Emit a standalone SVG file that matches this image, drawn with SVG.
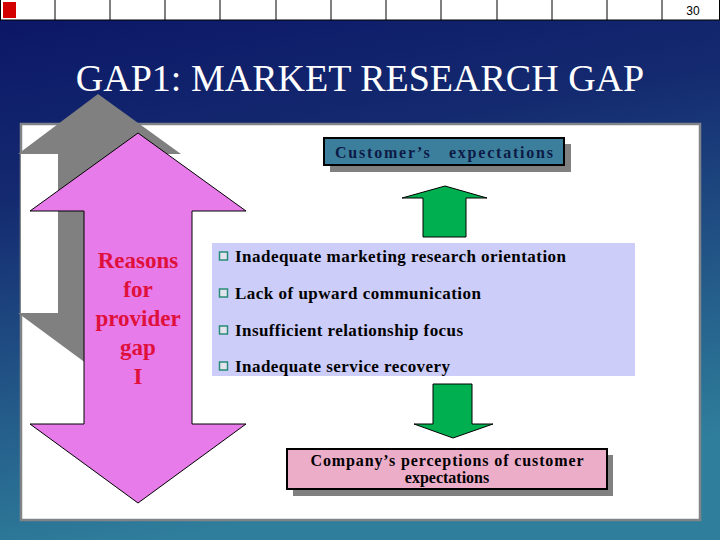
<svg xmlns="http://www.w3.org/2000/svg" width="720" height="540" viewBox="0 0 720 540">
<defs>
<linearGradient id="bg" x1="0" y1="0" x2="0.25" y2="1">
<stop offset="0" stop-color="#0b1565"/>
<stop offset="0.35" stop-color="#142a70"/>
<stop offset="1" stop-color="#2f7f9c"/>
</linearGradient>
<style>
.bullet{fill:#e4e4ee;stroke:#2a8c78;stroke-width:1.5}
.green{fill:#00b050;stroke:#000;stroke-width:1}
.div{stroke:#000;stroke-width:1}
</style>
</defs>
<rect x="0" y="0" width="720" height="540" fill="url(#bg)"/>
<g id="topbar">
<rect x="0" y="0" width="720" height="20" fill="#fff"/>
<line class="div" x1="0" y1="20" x2="720" y2="20" stroke-width="1.5"/>
<g class="div">
<line x1="0.5" y1="0" x2="0.5" y2="20"/>
<line x1="55" y1="0" x2="55" y2="20"/>
<line x1="110" y1="0" x2="110" y2="20"/>
<line x1="165" y1="0" x2="165" y2="20"/>
<line x1="220" y1="0" x2="220" y2="20"/>
<line x1="276" y1="0" x2="276" y2="20"/>
<line x1="331" y1="0" x2="331" y2="20"/>
<line x1="386" y1="0" x2="386" y2="20"/>
<line x1="441" y1="0" x2="441" y2="20"/>
<line x1="497" y1="0" x2="497" y2="20"/>
<line x1="552" y1="0" x2="552" y2="20"/>
<line x1="607" y1="0" x2="607" y2="20"/>
<line x1="662" y1="0" x2="662" y2="20"/>
<line x1="719.5" y1="0" x2="719.5" y2="20"/>
</g>
<rect x="3" y="2" width="13" height="16" fill="#d40000"/>
<text x="693" y="14.5" font-family="'Liberation Sans', Arial, sans-serif" font-size="12" fill="#000" text-anchor="middle">30</text>
</g>
<text id="title" font-family="'Liberation Serif', serif" x="360" y="91" font-size="38" fill="#fff" text-anchor="middle">GAP1: MARKET RESEARCH GAP</text>
<g id="panel">
<rect x="21" y="124" width="679" height="396" fill="#fff" stroke="#808488" stroke-width="2.5"/>
</g>
<g id="shadow-arrow">
<polygon points="98,94 181,154 138,154 138,313 181,313 98,372 18,313 58,313 58,154 18,154" fill="#808080"/>
<rect x="21" y="154" width="37" height="159" fill="#fff"/>
</g>
<g id="gap-arrow" font-family="'Liberation Serif', serif" font-weight="bold" font-size="23" fill="#e0103c" text-anchor="middle">
<polygon points="138,133 246,211 192,211 192,424 246,424 138,503 30,424 84,424 84,211 30,211" fill="#e77be9" stroke="#000" stroke-width="1"/>
<text x="138" y="268">Reasons</text>
<text x="138" y="297">for</text>
<text x="138" y="326">provider</text>
<text x="138" y="355">gap</text>
<text x="138" y="384">I</text>
</g>
<g id="customer-expectations">
<rect x="330" y="144" width="241" height="28" fill="#808080"/>
<rect x="324" y="138" width="240" height="27" fill="#3b7f9d" stroke="#000" stroke-width="2"/>
<text font-family="'Liberation Serif', serif" x="444" y="158" font-size="16" font-weight="bold" fill="#0d1a45" text-anchor="middle" xml:space="preserve" textLength="218" lengthAdjust="spacing">Customer’s   expectations</text>
</g>
<g id="reasons-list" font-family="'Liberation Serif', serif" font-weight="bold" font-size="17" fill="#000">
<rect x="212" y="243" width="423" height="133" fill="#cdcdf9"/>
<rect class="bullet" x="219.5" y="252" width="8" height="8"/>
<rect class="bullet" x="219.5" y="289" width="8" height="8"/>
<rect class="bullet" x="219.5" y="326" width="8" height="8"/>
<rect class="bullet" x="219.5" y="362" width="8" height="8"/>
<text x="235" y="262" textLength="331" lengthAdjust="spacing">Inadequate marketing research orientation</text>
<text x="235" y="299" textLength="246" lengthAdjust="spacing">Lack of upward communication</text>
<text x="235" y="336" textLength="228" lengthAdjust="spacing">Insufficient relationship focus</text>
<text x="235" y="372" textLength="215" lengthAdjust="spacing">Inadequate service recovery</text>
</g>
<g id="connectors">
<polygon class="green" points="445,186 487,198 466,198 466,237 423,237 423,198 402,198"/>
<polygon class="green" points="433,384 472,384 472,424 493,424 453,438 414,424 433,424"/>
</g>
<g id="company-perceptions" font-family="'Liberation Serif', serif" font-weight="bold" font-size="16" fill="#000" text-anchor="middle">
<rect x="293" y="455" width="320" height="41" fill="#808080"/>
<rect x="287" y="449" width="320" height="40" fill="#ecadc9" stroke="#000" stroke-width="2"/>
<text x="447" y="466" textLength="273" lengthAdjust="spacing">Company’s perceptions of customer</text>
<text x="447" y="483">expectations</text>
</g>
</svg>
